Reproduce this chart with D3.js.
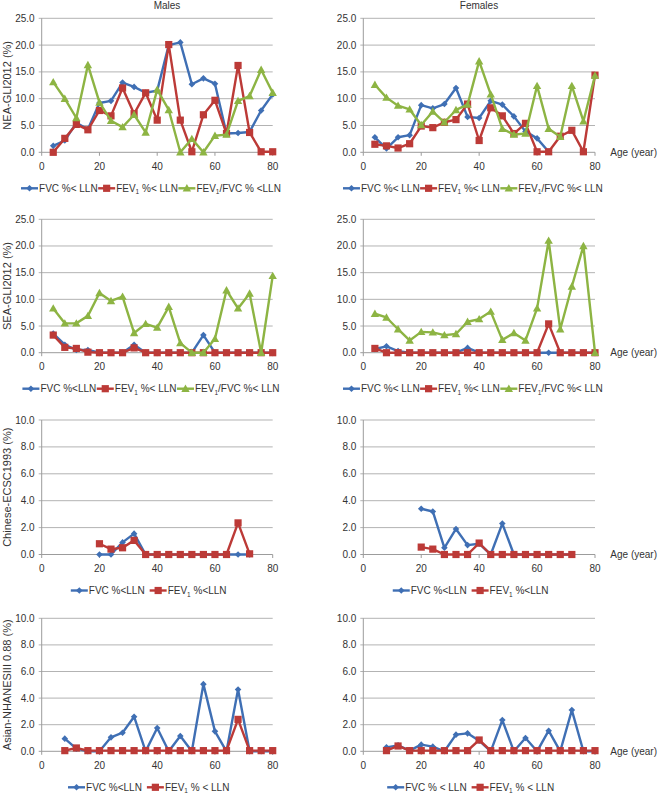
<!DOCTYPE html>
<html>
<head>
<meta charset="utf-8">
<script src="https://cdn.jsdelivr.net/npm/d3@7"></script>
<style>
  html, body { margin: 0; padding: 0; background: #fff; }
  svg text { font-family: "Liberation Sans", Arial, Helvetica, sans-serif; fill: #333; }
</style>
</head>
<body>
<svg id="chart" width="659" height="797"></svg>
<script>
// ---------------- DATA ----------------
const ages4to80 = [4,8,12,16,20,24,28,32,36,40,44,48,52,56,60,64,68,72,76,80];
const ages20to72 = [20,24,28,32,36,40,44,48,52,56,60,64,68,72];
const ages8to80 = [8,12,16,20,24,28,32,36,40,44,48,52,56,60,64,68,72,76,80];
const xTicks = [0,20,40,60,80];
const yTicks25 = [0,5,10,15,20,25];
const yTicks10 = [0,2,4,6,8,10];
const columnTitles = ["Males", "Females"];
const rowTitles = ["NEA-GLI2012 (%)", "SEA-GLI2012 (%)", "Chinese-ECSC1993 (%)", "Asian-NHANESIII 0.88 (%)"];

// NEA-GLI2012
const neaMaleFVC   = [1.2,2.2,5.5,4.3,9.2,9.6,13.0,12.2,11.1,11.5,20.0,20.5,12.7,13.8,12.8,3.5,3.6,3.8,7.8,10.8];
const neaMaleFEV1  = [0.0,2.6,5.2,4.2,7.8,6.8,12.0,7.2,11.1,6.0,20.1,6.0,0.1,7.0,9.7,3.5,16.2,3.7,0.1,0.1];
const neaMaleRatio = [13.1,10.0,6.4,16.3,9.3,5.9,4.7,7.0,3.7,11.7,7.9,0.0,2.5,0.0,3.1,3.3,9.6,10.5,15.4,11.1];
const neaFemaleFVC   = [2.8,0.7,2.8,3.2,8.8,8.2,9.0,12.0,6.6,6.4,9.6,8.9,6.7,3.9,2.6,0.1,null,null,null,null];
const neaFemaleFEV1  = [1.5,1.2,0.8,1.6,4.9,4.6,5.6,6.1,9.0,2.2,8.3,6.8,3.5,5.4,0.1,0.1,3.0,4.1,0.1,14.4];
const neaFemaleRatio = [12.6,10.2,8.7,8.0,5.1,7.6,5.6,7.9,8.9,17.0,10.8,4.4,3.3,3.5,12.4,4.4,2.9,12.4,5.8,14.3];

// SEA-GLI2012
const seaMaleFVC   = [3.6,1.5,0.5,0.5,0,0,0,1.5,0,0,0,0,0,3.3,0,0,0,0,0,0];
const seaMaleFEV1  = [3.3,1.0,0.8,0.1,0,0,0,0.9,0,0,0,0,0,0,0,0,0,0,0,0];
const seaMaleRatio = [8.3,5.5,5.5,6.9,11.2,9.7,10.5,3.7,5.4,4.7,8.6,1.8,0,0,2.6,11.7,8.3,11.1,0,14.4];
const seaFemaleFVC   = [0.7,1.2,0.3,0,0,0,0,0,0.9,0,0,0,0,0,0,0,0,0,0,0];
const seaFemaleFEV1  = [0.8,0,0,0,0,0,0,0,0,0,0,0,0,0,0,5.4,0,0,0,0];
const seaFemaleRatio = [7.3,6.6,4.4,2.3,3.9,3.8,3.3,3.5,5.8,6.3,7.7,2.4,3.7,2.3,8.3,21.0,4.4,12.4,20.0,0];

// Chinese-ECSC1993
const ecscMaleFVC    = [0,0,0.9,1.55,0,0,0,0,0,0,0,0,0,0];
const ecscMaleFEV1   = [0.8,0.4,0.5,1.05,0,0,0,0,0,0,0,0,2.35,0.05];
const ecscFemaleFVC  = [3.4,3.2,0.5,1.9,0.7,0.8,0,2.3,0,0,0,0,0,0];
const ecscFemaleFEV1 = [0.55,0.4,0,0,0,0.85,0,0,0,0,0,0,0,0];

// Asian-NHANESIII 0.88
const nhMaleFVC    = [0.95,0.2,0,0,1.05,1.4,2.6,0,1.75,0,1.15,0,5.05,1.5,0,4.65,0,0,0];
const nhMaleFEV1   = [0.05,0.25,0.05,0.05,0.05,0.05,0.05,0.05,0.05,0.05,0.05,0.05,0.05,0.05,0.05,2.4,0.05,0.05,0.05];
const nhFemaleFVC  = [0.3,0.45,0.05,0.5,0.35,0,1.25,1.35,0.8,0,2.35,0,1.0,0,1.55,0,3.1,0,0];
const nhFemaleFEV1 = [0.05,0.4,0.05,0.05,0.05,0.05,0.05,0.05,0.85,0.05,0.05,0.05,0.05,0.05,0.05,0.05,0.05,0.05,0.05];

// legend labels (FEV_1 written with "_1" marker for subscript)
const legendNEAMale   = ["FVC %< LLN", "FEV_1 %< LLN", "FEV_1/FVC % <LLN"];
const legendNEAFemale = ["FVC %< LLN", "FEV_1 %< LLN", "FEV_1/FVC %< LLN"];
const legendSEAMale   = ["FVC %<LLN", "FEV_1 %< LLN", "FEV_1/FVC %< LLN"];
const legendSEAFemale = ["FVC %< LLN", "FEV_1 %< LLN", "FEV_1/FVC %< LLN"];
const legendECSC      = ["FVC %<LLN", "FEV_1 %<LLN"];
const legendNHMale    = ["FVC %<LLN", "FEV_1 % < LLN"];
const legendNHFemale  = ["FVC % < LLN", "FEV_1 % < LLN"];

// ---------------- STYLE / LAYOUT ----------------
const COLORS = { fvc: "#3F6FB4", fev1: "#BC3A37", ratio: "#8DB443" };
const SHAPES = { fvc: "diamond", fev1: "square", ratio: "triangle" };
const cols = [{ x0: 41.7, x1: 272.7 }, { x0: 363.3, x1: 595 }];
const rows = [
  { top: 18.3, bottom: 152.3, max: 25, ticks: yTicks25 },
  { top: 219.3, bottom: 352.7, max: 25, ticks: yTicks25 },
  { top: 420, bottom: 554.5, max: 10, ticks: yTicks10 },
  { top: 618.3, bottom: 751.3, max: 10, ticks: yTicks10 }
];

const panels = [
  { r: 0, c: 0, ages: ages4to80, series: [["fvc", neaMaleFVC], ["fev1", neaMaleFEV1], ["ratio", neaMaleRatio]], legend: legendNEAMale },
  { r: 0, c: 1, ages: ages4to80, series: [["fvc", neaFemaleFVC], ["fev1", neaFemaleFEV1], ["ratio", neaFemaleRatio]], legend: legendNEAFemale },
  { r: 1, c: 0, ages: ages4to80, series: [["fvc", seaMaleFVC], ["fev1", seaMaleFEV1], ["ratio", seaMaleRatio]], legend: legendSEAMale },
  { r: 1, c: 1, ages: ages4to80, series: [["fvc", seaFemaleFVC], ["fev1", seaFemaleFEV1], ["ratio", seaFemaleRatio]], legend: legendSEAFemale },
  { r: 2, c: 0, ages: ages20to72, series: [["fvc", ecscMaleFVC], ["fev1", ecscMaleFEV1]], legend: legendECSC },
  { r: 2, c: 1, ages: ages20to72, series: [["fvc", ecscFemaleFVC], ["fev1", ecscFemaleFEV1]], legend: legendECSC },
  { r: 3, c: 0, ages: ages8to80, series: [["fvc", nhMaleFVC], ["fev1", nhMaleFEV1]], legend: legendNHMale },
  { r: 3, c: 1, ages: ages8to80, series: [["fvc", nhFemaleFVC], ["fev1", nhFemaleFEV1]], legend: legendNHFemale }
];

const FS = 10;
const svg = d3.select("#chart");
svg.append("rect").attr("width", 659).attr("height", 797).attr("fill", "#fff");

function markerPath(shape) {
  if (shape === "diamond") return "M0,-3.3L3.3,0L0,3.3L-3.3,0Z";
  if (shape === "square") return "M-3.6,-3.6H3.6V3.6H-3.6Z";
  return "M0,-4.2L4.2,3.2H-4.2Z";
}

function writeLabel(textSel, label) {
  const parts = label.split("_1");
  parts.forEach((p, i) => {
    const ts = textSel.append("tspan").text(p);
    if (i > 0) ts.attr("dy", -2.5);
    if (i < parts.length - 1) {
      textSel.append("tspan").attr("font-size", 6.5).attr("dy", 2.5).text("1");
    }
  });
}

// column titles
columnTitles.forEach((t, i) => {
  svg.append("text").attr("x", i === 0 ? 167 : 479).attr("y", 9)
    .attr("text-anchor", "middle").attr("font-size", FS).text(t);
});

panels.forEach(p => {
  const R = rows[p.r], C = cols[p.c];
  const x = d3.scaleLinear().domain([0, 80]).range([C.x0, C.x1]);
  const y = d3.scaleLinear().domain([0, R.max]).range([R.bottom, R.top]);
  const g = svg.append("g");

  g.selectAll("line.grid").data(R.ticks.filter(d => d > 0)).join("line")
    .attr("x1", x(0) - 3).attr("x2", x(80))
    .attr("y1", d => y(d)).attr("y2", d => y(d))
    .attr("stroke", "#b3b3b3").attr("stroke-width", 1);
  g.append("line").attr("x1", x(0)).attr("x2", x(0)).attr("y1", y(R.max)).attr("y2", y(0))
    .attr("stroke", "#9c9c9c").attr("stroke-width", 1);
  g.append("line").attr("x1", x(0) - 3).attr("x2", x(80)).attr("y1", y(0)).attr("y2", y(0))
    .attr("stroke", "#9c9c9c").attr("stroke-width", 1);
  g.selectAll("line.xt").data(xTicks).join("line")
    .attr("x1", d => x(d)).attr("x2", d => x(d)).attr("y1", y(0)).attr("y2", y(0) + 3.5)
    .attr("stroke", "#9c9c9c").attr("stroke-width", 1);

  g.selectAll("text.yl").data(R.ticks).join("text")
    .attr("x", x(0) - 7).attr("y", d => y(d) + 3.5)
    .attr("text-anchor", "end").attr("font-size", FS)
    .text(d3.format(".1f"));
  g.selectAll("text.xl").data(xTicks).join("text")
    .attr("x", d => x(d)).attr("y", y(0) + 17.5)
    .attr("text-anchor", "middle").attr("font-size", FS)
    .text(d => d);

  if (p.c === 0) {
    const cy = (R.top + R.bottom) / 2;
    svg.append("text").attr("transform", `translate(11,${cy}) rotate(-90)`)
      .attr("text-anchor", "middle").attr("font-size", 11).text(rowTitles[p.r]);
  } else {
    svg.append("text").attr("x", 657).attr("y", y(0) + 3.5)
      .attr("text-anchor", "end").attr("font-size", FS).text("Age (year)");
  }

  p.series.forEach(([key, vals]) => {
    const pts = p.ages.map((a, i) => ({ a, v: vals[i] }));
    const line = d3.line().defined(d => d.v != null).x(d => x(d.a)).y(d => y(d.v));
    g.append("path").datum(pts).attr("d", line)
      .attr("fill", "none").attr("stroke", COLORS[key]).attr("stroke-width", 2.4)
      .attr("stroke-linejoin", "round");
    g.selectAll(null).data(pts.filter(d => d.v != null)).join("path")
      .attr("d", markerPath(SHAPES[key]))
      .attr("transform", d => `translate(${x(d.a)},${y(d.v)})`)
      .attr("fill", COLORS[key]);
  });

  const lg = svg.append("g");
  const ly = R.bottom + 36;
  let cx = 0;
  p.series.forEach(([key], i) => {
    const item = lg.append("g").attr("transform", `translate(${cx},0)`);
    item.append("line").attr("x1", 0).attr("x2", 17).attr("y1", 0).attr("y2", 0)
      .attr("stroke", COLORS[key]).attr("stroke-width", 2.4);
    item.append("path").attr("d", markerPath(SHAPES[key])).attr("transform", "translate(8.5,0)")
      .attr("fill", COLORS[key]);
    const t = item.append("text").attr("x", 18).attr("y", 3.5).attr("font-size", FS);
    writeLabel(t, p.legend[i]);
    const w = t.node().getComputedTextLength();
    cx += 18 + w + (p.series.length === 2 ? 5 : 0.5);
  });
  const center = (C.x0 + C.x1) / 2 - 6;
  lg.attr("transform", `translate(${center - cx / 2},${ly})`);
});
</script>
</body>
</html>
